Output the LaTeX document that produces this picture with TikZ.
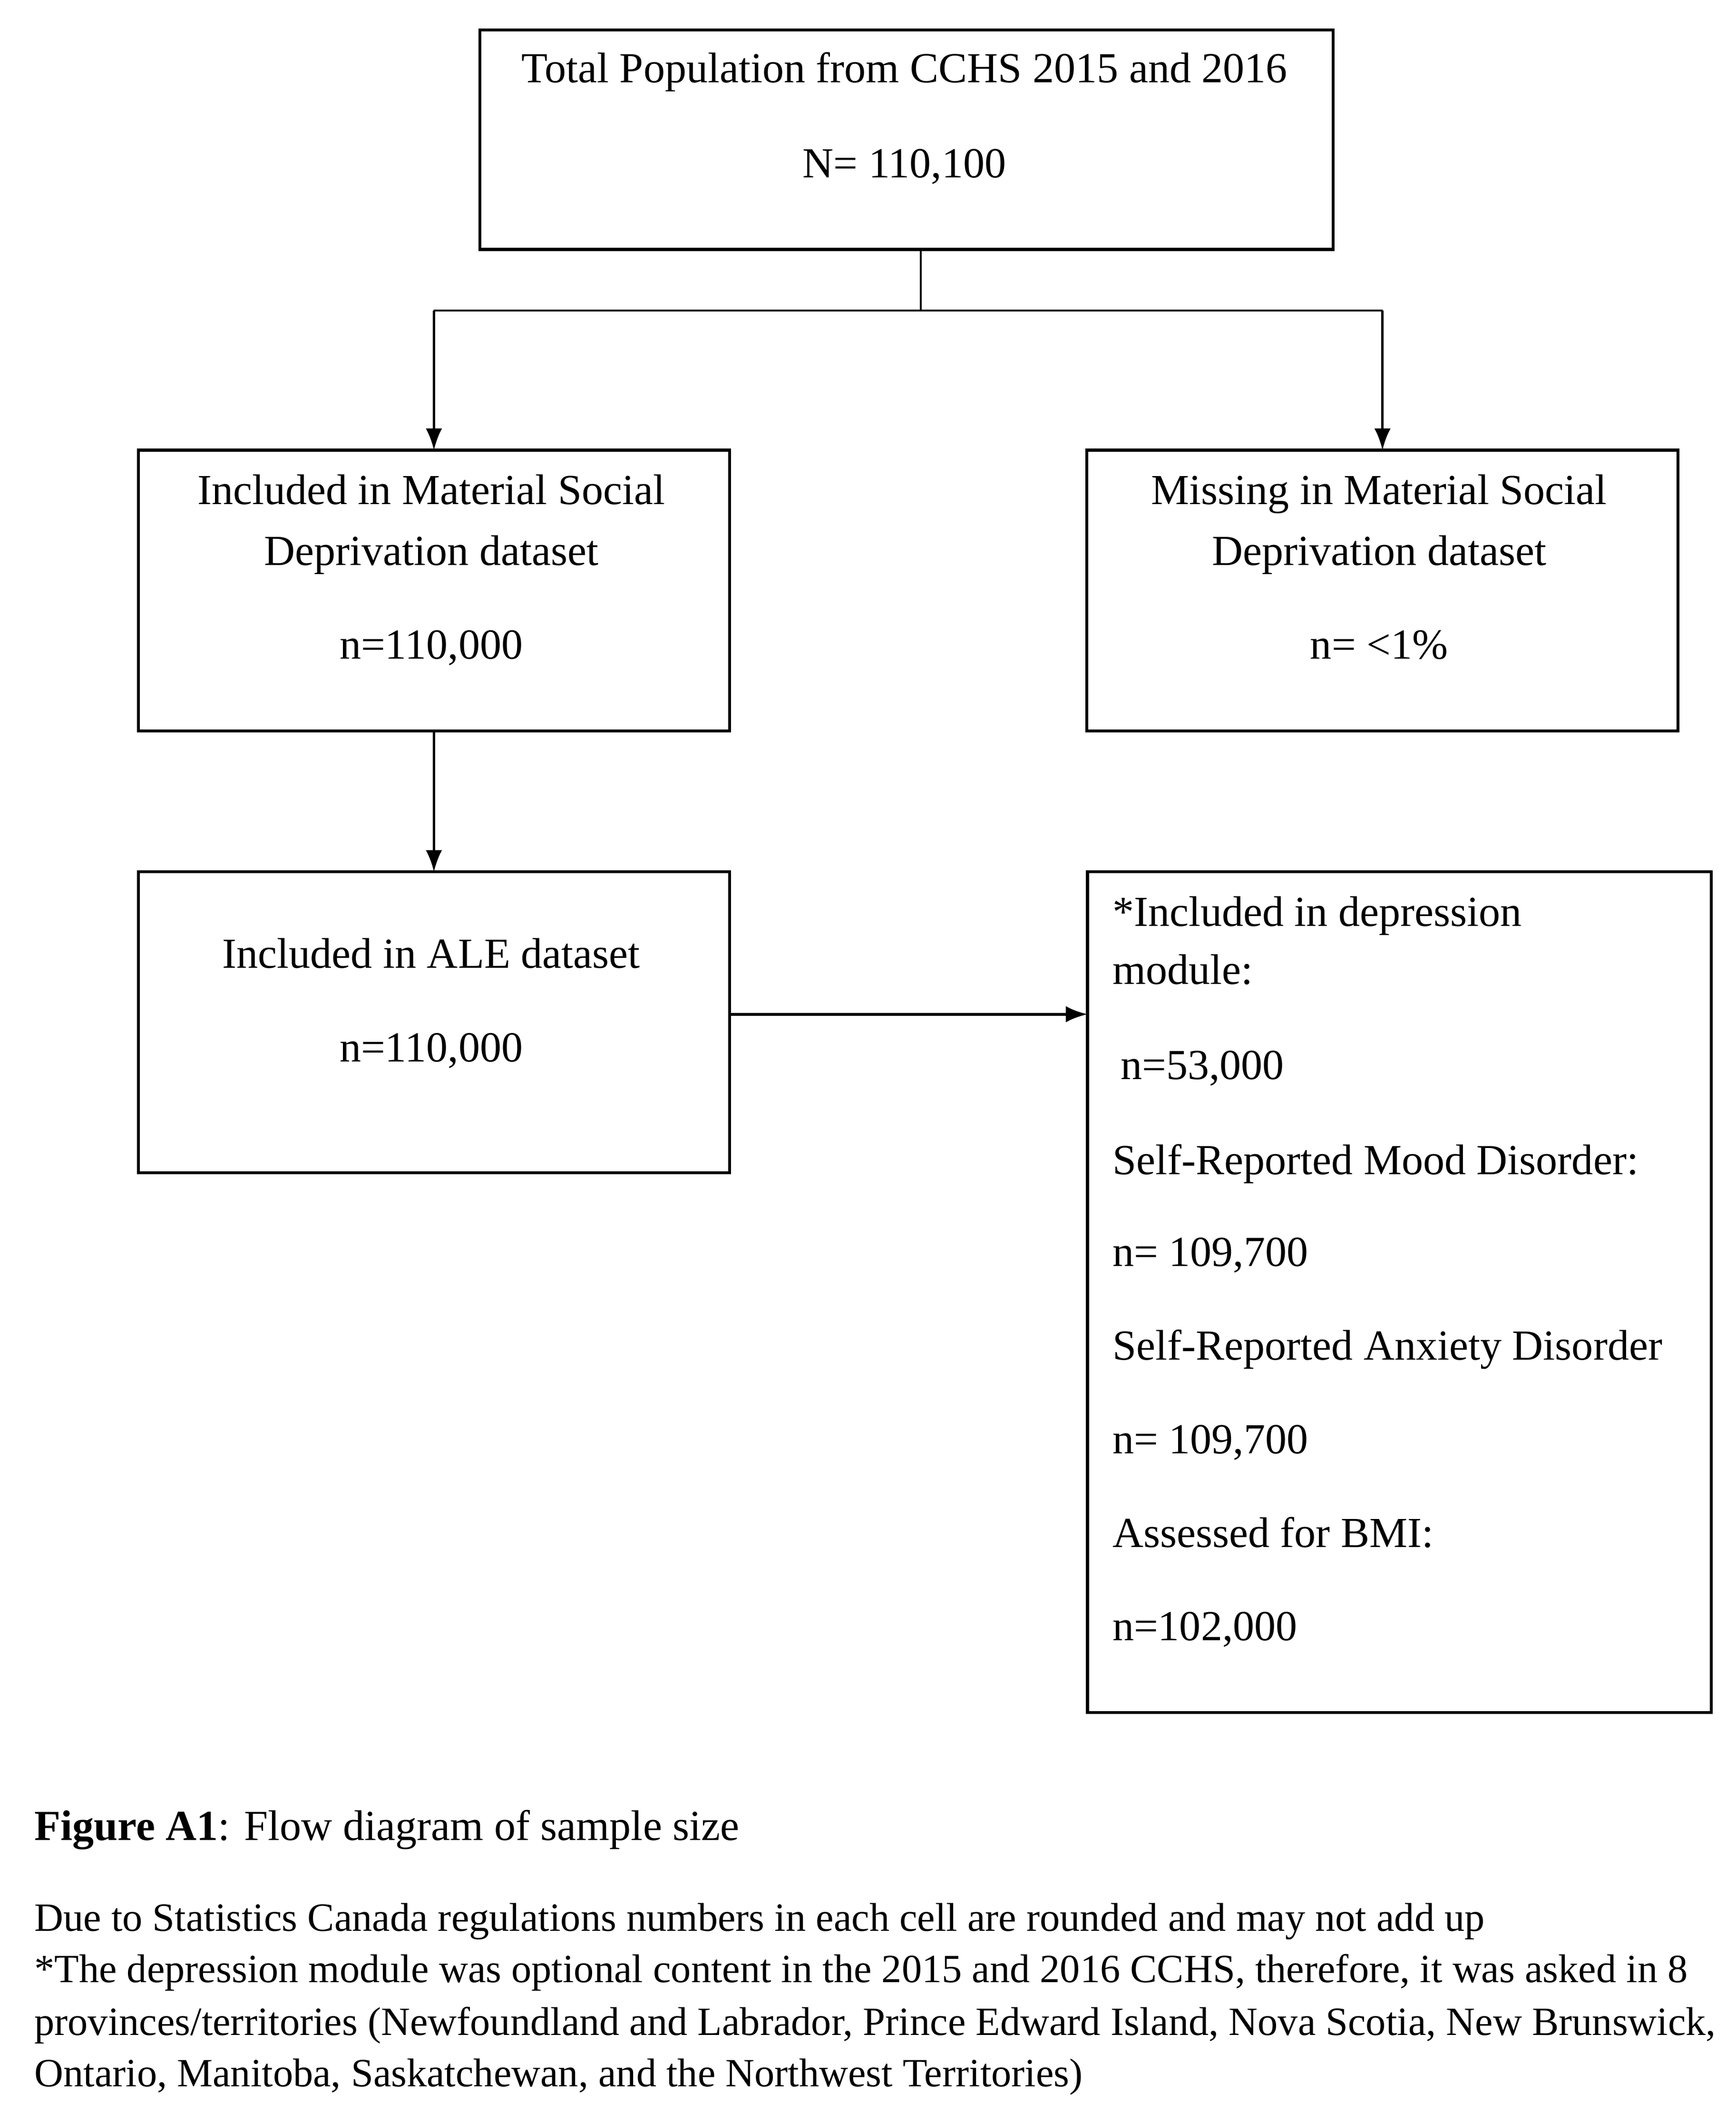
\documentclass[tikz,border=0pt]{standalone}
\usepackage{fontspec}
\setmainfont{Liberation Serif}
\usetikzlibrary{arrows.meta}
\begin{document}
\begin{tikzpicture}[x=0.5pt,y=-0.5pt,
  box/.style={draw,line width=1.1pt,inner sep=0pt,outer sep=0pt,rectangle},
  txt/.style={inner sep=0pt,anchor=base,font=\fontsize{15.8}{18}\selectfont},
  ltxt/.style={txt,anchor=base west},
  ctxt/.style={inner sep=0pt,anchor=base west,font=\fontsize{14.8}{17}\selectfont},
  conn/.style={line width=0.8pt},
  arr/.style={conn,-{Latex[length=8pt,width=6pt]}}]
\useasboundingbox (0,0) rectangle (1280,1565);
% boxes
\node[box,minimum width=314.5pt,minimum height=81pt] (top) at (668.5,103) {};
\node[box,minimum width=218pt,minimum height=103.5pt] (inc) at (320,435.5) {};
\node[box,minimum width=218pt,minimum height=103.5pt] (mis) at (1019.5,435.5) {};
\node[box,minimum width=218pt,minimum height=111pt] (ale) at (320,754) {};
\node[box,minimum width=230pt,minimum height=310pt] (dep) at (1032,953) {};
% texts
\node[txt] (t1) at (667,61) {Total Population from CCHS 2015 and 2016};
\node[txt] (t2) at (667,131) {N= 110,100};
\node[txt] (i1) at (318,372) {Included in Material Social};
\node[txt] (i2) at (318,417) {Deprivation dataset};
\node[txt] (i3) at (318,486) {n=110,000};
\node[txt] (m1) at (1017,372) {Missing in Material Social};
\node[txt] (m2) at (1017,417) {Deprivation dataset};
\node[txt] (m3) at (1017,486) {n= <1\%};
\node[txt] (a1) at (318,714) {Included in ALE dataset};
\node[txt] (a2) at (318,783) {n=110,000};
\node[ltxt] (d1) at (820,683) {*Included in depression};
\node[ltxt] (d2) at (820,726) {module:};
\node[ltxt] (d3) at (826,796) {n=53,000};
\node[ltxt] (d4) at (820,866) {Self-Reported Mood Disorder:};
\node[ltxt] (d5) at (820,934) {n= 109,700};
\node[ltxt] (d6) at (820,1003) {Self-Reported Anxiety Disorder};
\node[ltxt] (d7) at (820,1072) {n= 109,700};
\node[ltxt] (d8) at (820,1141) {Assessed for BMI:};
\node[ltxt] (d9) at (820,1210) {n=102,000};
% caption
\node[ltxt] (c1) at (25,1357) {\textbf{Figure A1}: Flow diagram of sample size};
\node[ctxt] (c2) at (25,1424) {Due to Statistics Canada regulations numbers in each cell are rounded and may not add up};
\node[ctxt] (c3) at (25,1462) {*The depression module was optional content in the 2015 and 2016 CCHS, therefore, it was asked in 8};
\node[ctxt] (c4) at (25,1501) {provinces/territories (Newfoundland and Labrador, Prince Edward Island, Nova Scotia, New Brunswick,};
\node[ctxt] (c5) at (25,1539) {Ontario, Manitoba, Saskatchewan, and the Northwest Territories)};
% connectors
\coordinate (split) at (679,229);
\draw[conn] (top.south -| split) -- (split);
\draw[conn] (inc.north |- split) -- (mis.north |- split);
\draw[arr] (inc.north |- split) -- (inc.north);
\draw[arr] (mis.north |- split) -- (mis.north);
\draw[arr] (inc.south) -- (ale.north);
\draw[arr,line width=1pt] ([yshift=3pt]ale.east) -- ([yshift=3pt]ale.east -| dep.west);
\end{tikzpicture}
\end{document}
